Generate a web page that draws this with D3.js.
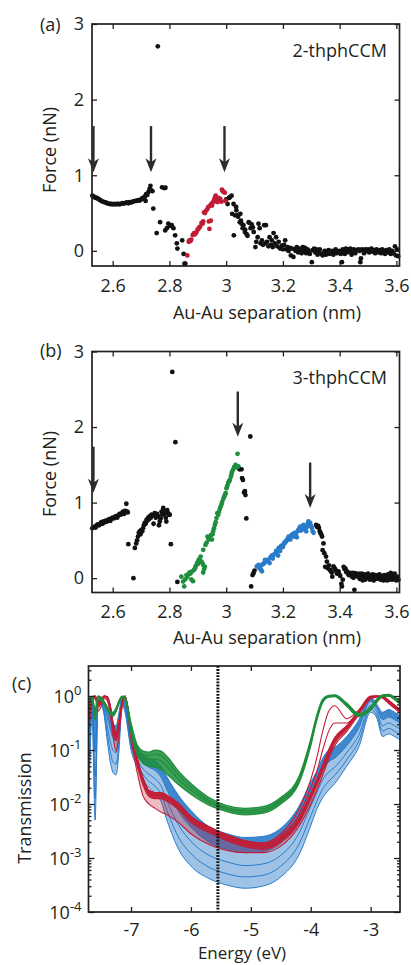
<!DOCTYPE html>
<html>
<head>
<meta charset="utf-8">
<script src="https://cdn.jsdelivr.net/npm/d3@7"></script>
<style>
  html, body { margin: 0; padding: 0; background: #fff; }
  svg { display: block; font-family: "Open Sans", "Noto Sans", sans-serif; }
</style>
</head>
<body>
<svg id="fig" width="411" height="965"></svg>
<script>
// ---------------- data ----------------
const sepTicks = [2.6, 2.8, 3, 3.2, 3.4, 3.6];
const forceTicks = [0, 1, 2, 3];
const energyTicks = [-7, -6, -5, -4, -3];
const energyTickLabels = ["-7", "-6", "-5", "-4", "-3"];
const transTicks = [1e-4, 1e-3, 1e-2, 1e-1, 1];
const transExponents = ["-4", "-3", "-2", "-1", "0"];

// (a) 2-thphCCM force trace: [separation nm, force nN]
const aBlack = [
[2.528,0.73],[2.532,0.72],[2.536,0.71],[2.540,0.70],[2.544,0.70],[2.548,0.69],[2.552,0.68],[2.556,0.67],[2.560,0.66],[2.565,0.65],[2.570,0.645],[2.575,0.64],[2.580,0.63],[2.585,0.625],[2.590,0.62],[2.595,0.62],[2.600,0.615],[2.605,0.62],[2.610,0.615],[2.615,0.62],[2.620,0.62],[2.625,0.615],[2.630,0.625],[2.635,0.63],[2.640,0.625],[2.645,0.635],[2.650,0.64],[2.655,0.63],[2.660,0.645],[2.665,0.64],[2.670,0.65],[2.675,0.655],[2.680,0.66],[2.685,0.66],[2.690,0.67],[2.695,0.665],[2.700,0.68],[2.705,0.70],[2.710,0.69],[2.714,0.72],[2.716,0.66],[2.718,0.75],[2.722,0.74],[2.726,0.78],[2.730,0.82],[2.733,0.86],[2.736,0.80],[2.740,0.79],[2.743,0.56],
[2.755,0.235],[2.759,2.705],[2.767,0.38],[2.774,0.84],[2.782,0.83],[2.786,0.835],[2.785,0.27],[2.791,0.30],[2.796,0.36],[2.802,0.33],[2.808,0.34],[2.814,0.30],[2.820,0.205],[2.826,0.10],[2.828,0.03],[2.845,0.14],[2.850,-0.04],[2.853,-0.17],[2.856,-0.17],
[3.000,0.68],[3.005,0.62],[3.010,0.70],[3.013,0.71],[3.019,0.73],[3.021,0.49],[3.026,0.62],[3.027,0.205],[3.031,0.47],[3.035,0.58],[3.036,0.535],[3.040,0.47],[3.042,0.45],[3.048,0.38],[3.050,0.49],[3.052,0.40],[3.054,0.36],[3.058,0.30],[3.061,0.34],[3.066,0.25],[3.067,0.28],[3.072,0.22],[3.075,0.20],[3.079,0.38],[3.082,0.37],[3.086,0.30],[3.090,0.35],[3.094,0.31],[3.097,0.25],[3.103,0.05],[3.106,0.12],[3.111,0.18],[3.114,0.36],[3.118,0.30],[3.121,0.10],[3.126,0.14],[3.130,0.08],[3.134,0.34],[3.138,0.10],[3.140,0.34],[3.144,0.12],[3.149,0.06],[3.153,0.18],[3.157,0.08],[3.161,0.14],[3.164,0.05],[3.167,0.235],[3.171,0.10],[3.176,0.18],[3.180,0.06],[3.185,0.12],[3.190,0.03],[3.196,0.07],[3.200,0.02],[3.204,0.08],[3.208,0.14],[3.212,0.02],[3.216,0.05],[3.220,0.00],[3.225,0.04],[3.228,-0.06],[3.232,0.03],[3.237,-0.08],[3.241,0.02],[3.245,0.00],[3.249,0.05],[3.254,-0.02],[3.258,0.03],[3.261,0.01],[3.266,-0.03],[3.270,0.05],[3.274,0.00],[3.278,0.04],[3.282,-0.03],[3.287,0.02],[3.291,0.00],[3.295,-0.04],[3.302,-0.15],[3.305,0.01],[3.310,0.03],[3.314,-0.02],[3.318,0.02],[3.322,-0.05],[3.326,-0.01],[3.330,0.02],[3.335,-0.04],[3.340,-0.06],[3.344,-0.02],[3.348,0.00],[3.352,-0.05],[3.357,-0.03],[3.361,0.01],[3.365,-0.04],[3.370,-0.02],[3.374,0.00],[3.378,-0.05],[3.382,-0.02],[3.386,0.02],[3.390,-0.03],[3.395,-0.02],[3.400,0.00],[3.404,-0.04],[3.408,-0.15],[3.411,0.02],[3.414,0.00],[3.418,-0.04],[3.422,0.03],[3.426,-0.02],[3.430,0.02],[3.434,-0.01],[3.438,0.03],[3.442,-0.05],[3.446,0.00],[3.450,0.02],[3.455,-0.03],[3.460,0.01],[3.466,0.02],[3.470,0.00],[3.473,-0.15],[3.475,-0.10],[3.478,0.02],[3.482,0.01],[3.486,-0.03],[3.490,0.02],[3.494,0.00],[3.500,0.02],[3.504,-0.02],[3.508,0.01],[3.512,0.03],[3.516,-0.01],[3.520,0.01],[3.525,-0.03],[3.530,0.02],[3.534,0.00],[3.538,-0.02],[3.542,0.01],[3.546,-0.03],[3.550,0.02],[3.555,0.00],[3.560,-0.04],[3.565,0.01],[3.570,-0.02],[3.575,0.02],[3.580,-0.04],[3.585,0.00],[3.590,-0.03],[3.595,0.06],[3.598,-0.06],[3.602,0.02],[3.606,-0.07]
];
const aRed = [
[2.863,-0.06],[2.868,0.12],[2.870,0.14],[2.874,0.13],[2.877,0.15],[2.882,0.21],[2.887,0.235],[2.890,0.22],[2.895,0.245],[2.899,0.28],[2.902,0.29],[2.905,0.31],[2.908,0.32],[2.913,0.37],[2.917,0.36],[2.919,0.39],[2.922,0.51],[2.925,0.50],[2.929,0.53],[2.933,0.55],[2.937,0.58],[2.939,0.39],[2.941,0.29],[2.946,0.40],[2.944,0.60],[2.948,0.62],[2.950,0.60],[2.953,0.64],[2.956,0.65],[2.958,0.68],[2.961,0.71],[2.963,0.73],[2.967,0.68],[2.969,0.645],[2.972,0.70],[2.975,0.667],[2.979,0.69],[2.983,0.65],[2.985,0.81],[2.988,0.79],[2.991,0.78],[2.995,0.77],[2.997,0.66]
];

// (b) 3-thphCCM force trace
const bBlack = [
[2.528,0.66],[2.532,0.67],[2.536,0.68],[2.540,0.67],[2.544,0.70],[2.548,0.71],[2.552,0.70],[2.556,0.72],[2.560,0.74],[2.564,0.72],[2.568,0.75],[2.572,0.74],[2.576,0.76],[2.580,0.75],[2.584,0.77],[2.588,0.78],[2.592,0.76],[2.596,0.79],[2.600,0.80],[2.604,0.79],[2.608,0.81],[2.612,0.82],[2.616,0.80],[2.620,0.83],[2.624,0.85],[2.628,0.84],[2.632,0.86],[2.636,0.88],[2.640,0.85],[2.644,0.89],[2.648,0.985],[2.651,0.88],[2.653,0.87],[2.655,0.45],[2.673,0.00],
[2.678,0.40],[2.683,0.46],[2.686,0.50],[2.689,0.55],[2.692,0.60],[2.695,0.62],[2.698,0.58],[2.701,0.64],[2.704,0.62],[2.707,0.66],[2.710,0.70],[2.713,0.73],[2.716,0.72],[2.719,0.77],[2.722,0.76],[2.725,0.80],[2.728,0.78],[2.731,0.82],[2.734,0.80],[2.737,0.84],[2.740,0.83],[2.744,0.72],[2.748,0.86],[2.752,0.80],[2.756,0.85],[2.760,0.82],[2.763,0.70],[2.766,0.75],[2.769,0.79],[2.772,0.88],[2.775,0.84],[2.778,0.93],[2.781,0.85],[2.784,0.88],[2.787,0.80],[2.789,0.75],[2.792,0.90],[2.795,0.86],[2.798,0.84],[2.801,0.84],[2.805,0.45],
[2.810,2.73],[2.821,1.80],[2.828,-0.05],
[3.047,1.44],[3.054,1.44],[3.056,1.325],[3.059,1.30],[3.063,1.135],[3.066,1.15],[3.068,1.10],[3.071,0.79],[3.085,1.875],[3.088,-0.11],[3.093,0.04],[3.096,0.065],[3.100,0.10],
[3.317,0.705],[3.320,0.68],[3.324,0.69],[3.327,0.665],[3.330,0.62],[3.332,0.60],[3.335,0.58],[3.338,0.55],[3.340,0.37],[3.343,0.46],[3.346,0.33],[3.349,0.15],[3.352,0.285],[3.355,0.22],[3.358,0.13],[3.362,0.17],[3.366,0.11],[3.369,0.09],[3.372,0.075],[3.374,0.02],[3.378,0.155],[3.381,0.14],[3.384,0.12],[3.387,0.10],[3.390,0.06],[3.393,0.08],[3.396,0.09],[3.399,0.05],[3.402,0.03],[3.406,-0.075],[3.408,-0.11],[3.411,-0.02],[3.414,0.15],[3.417,0.12],[3.420,0.13],[3.423,0.08],[3.426,0.09],[3.429,0.06],[3.432,0.04],[3.436,0.07],[3.440,0.06],[3.443,0.02],[3.446,0.07],[3.449,0.005],[3.452,-0.155],[3.455,0.065],[3.458,0.03],[3.462,0.05],[3.465,0.02],[3.468,0.06],[3.471,-0.01],[3.474,0.04],[3.478,0.06],[3.481,-0.03],[3.484,0.02],[3.487,0.05],[3.490,-0.02],[3.494,0.03],[3.497,0.00],[3.500,0.06],[3.504,0.02],[3.507,-0.02],[3.510,0.04],[3.514,0.00],[3.517,0.05],[3.520,-0.03],[3.524,0.02],[3.527,0.04],[3.530,-0.01],[3.534,0.03],[3.537,0.00],[3.540,0.05],[3.544,-0.02],[3.547,0.03],[3.550,0.01],[3.554,-0.03],[3.557,0.04],[3.560,0.00],[3.564,0.02],[3.567,-0.03],[3.570,0.05],[3.574,0.01],[3.577,-0.02],[3.580,0.07],[3.584,0.02],[3.587,-0.02],[3.590,0.03],[3.594,0.06],[3.597,0.00],[3.600,-0.03],[3.604,0.02],[3.607,-0.02]
];
const bGreen = [
[2.842,0.02],[2.848,-0.045],[2.852,-0.11],[2.856,-0.015],[2.860,0.04],[2.863,0.02],[2.867,0.05],[2.871,0.075],[2.874,0.06],[2.877,-0.015],[2.880,0.09],[2.883,-0.04],[2.887,0.11],[2.890,0.13],[2.892,0.155],[2.896,0.18],[2.899,0.21],[2.901,0.19],[2.903,0.24],[2.906,0.25],[2.910,0.285],[2.913,0.22],[2.916,0.20],[2.919,0.175],[2.919,0.075],[2.922,0.12],[2.925,0.15],[2.919,0.375],[2.927,0.44],[2.931,0.47],[2.934,0.55],[2.937,0.53],[2.939,0.51],[2.942,0.54],[2.946,0.57],[2.950,0.51],[2.952,0.58],[2.954,0.62],[2.957,0.66],[2.960,0.705],[2.963,0.74],[2.966,0.795],[2.969,0.86],[2.972,0.84],[2.975,0.88],[2.978,0.92],[2.981,0.95],[2.984,0.98],[2.986,1.01],[2.990,1.05],[2.993,1.08],[2.996,1.10],[2.998,1.125],[3.001,1.19],[3.004,1.22],[3.007,1.26],[3.010,1.28],[3.013,1.30],[3.017,1.345],[3.019,1.38],[3.021,1.41],[3.025,1.44],[3.028,1.47],[3.033,1.50],[3.036,1.47],[3.040,1.645],[3.043,1.48]
];
const bBlue = [
[3.108,0.155],[3.114,0.175],[3.117,0.13],[3.120,0.15],[3.123,0.11],[3.126,0.09],[3.128,0.18],[3.131,0.19],[3.134,0.20],[3.137,0.24],[3.140,0.22],[3.144,0.23],[3.148,0.245],[3.153,0.20],[3.156,0.27],[3.159,0.285],[3.162,0.30],[3.164,0.26],[3.168,0.31],[3.173,0.32],[3.176,0.36],[3.179,0.35],[3.183,0.30],[3.185,0.40],[3.188,0.38],[3.190,0.36],[3.193,0.42],[3.196,0.43],[3.199,0.41],[3.202,0.44],[3.205,0.47],[3.208,0.47],[3.211,0.49],[3.214,0.50],[3.217,0.52],[3.220,0.55],[3.223,0.53],[3.226,0.51],[3.229,0.56],[3.232,0.575],[3.235,0.58],[3.238,0.55],[3.241,0.60],[3.243,0.595],[3.246,0.57],[3.249,0.54],[3.252,0.62],[3.255,0.64],[3.258,0.66],[3.261,0.68],[3.264,0.63],[3.267,0.66],[3.270,0.69],[3.273,0.705],[3.276,0.67],[3.279,0.64],[3.282,0.62],[3.285,0.68],[3.288,0.72],[3.290,0.75],[3.293,0.70],[3.296,0.73],[3.299,0.69],[3.302,0.665],[3.305,0.62],[3.308,0.60]
];

// arrows marking rupture events: separation, arrow top, arrow tip (nN)
const arrowSepA = [2.532, 2.735, 2.994];
const arrowTopA = [1.65, 1.65, 1.65];
const arrowTipA = [1.04, 1.04, 1.04];
const arrowSepB = [2.532, 3.041, 3.296];
const arrowTopB = [1.74, 2.47, 1.53];
const arrowTipB = [1.13, 1.87, 0.93];

// (c) transmission, log10(T) on a shared energy grid (eV)
const energy = [-7.7,-7.65,-7.6,-7.55,-7.5,-7.45,-7.4,-7.35,-7.3,-7.25,-7.2,-7.15,-7.1,-7.0,-6.9,-6.8,-6.7,-6.6,-6.5,-6.4,-6.2,-6.0,-5.7,-5.4,-5.1,-4.8,-4.5,-4.2,-4.0,-3.9,-3.8,-3.7,-3.6,-3.4,-3.2,-3.0,-2.9,-2.8,-2.7,-2.6,-2.5];
const markerEnergy = -5.55;

const blue1 = [-0.3,0.0,-0.5,0.0,-0.02,-0.1,-0.2,-0.35,-0.5,-0.55,-0.3,0.0,-0.1,-0.7,-0.98,-1.1,-1.15,-1.2,-1.3,-1.5,-1.85,-2.12,-2.42,-2.55,-2.62,-2.6,-2.45,-2.05,-1.6,-1.4,-1.15,-1.0,-0.95,-0.75,-0.45,-0.02,-0.15,-0.3,-0.25,-0.3,-0.38];
const blue2 = [-0.75,-0.09,-1.04,-0.03,-0.06,-0.18,-0.38,-0.6,-0.78,-0.82,-0.51,-0.05,-0.16,-0.79,-1.08,-1.24,-1.32,-1.38,-1.5,-1.74,-2.15,-2.43,-2.71,-2.84,-2.9,-2.88,-2.72,-2.32,-1.84,-1.61,-1.37,-1.22,-1.15,-0.92,-0.6,-0.1,-0.23,-0.44,-0.39,-0.44,-0.51];
const blue3 = [-1.12,-0.17,-1.49,-0.06,-0.09,-0.24,-0.53,-0.82,-1.01,-1.05,-0.69,-0.08,-0.21,-0.87,-1.16,-1.35,-1.45,-1.53,-1.66,-1.94,-2.4,-2.69,-2.95,-3.07,-3.14,-3.11,-2.95,-2.55,-2.04,-1.79,-1.55,-1.41,-1.32,-1.05,-0.73,-0.17,-0.29,-0.55,-0.5,-0.55,-0.62];
const blue4 = [-1.47,-0.23,-1.9,-0.08,-0.12,-0.3,-0.67,-1.01,-1.22,-1.26,-0.85,-0.12,-0.26,-0.93,-1.23,-1.45,-1.58,-1.67,-1.81,-2.12,-2.63,-2.92,-3.17,-3.29,-3.35,-3.32,-3.15,-2.75,-2.22,-1.95,-1.72,-1.58,-1.47,-1.18,-0.84,-0.24,-0.35,-0.65,-0.6,-0.65,-0.72];
const blue5 = [-1.8,-0.3,-2.3,-0.1,-0.15,-0.35,-0.8,-1.2,-1.42,-1.46,-1.0,-0.15,-0.3,-1.0,-1.3,-1.55,-1.7,-1.8,-1.95,-2.3,-2.85,-3.15,-3.38,-3.5,-3.56,-3.52,-3.35,-2.95,-2.4,-2.1,-1.88,-1.74,-1.62,-1.3,-0.95,-0.3,-0.4,-0.75,-0.7,-0.75,-0.82];

const red1 = [-0.35,-0.02,0.0,-0.1,-0.07,0.0,-0.01,-0.16,-0.5,-0.69,-0.45,-0.12,0.0,-0.6,-1.14,-1.52,-1.75,-1.79,-1.79,-1.84,-2.0,-2.23,-2.42,-2.57,-2.68,-2.72,-2.55,-2.1,-1.55,-1.15,-0.65,-0.28,-0.18,-0.42,-0.26,0.0,0.0,-0.01,-0.08,-0.17,-0.26];
const red1b = [-0.35,-0.02,0.0,-0.1,-0.07,0.0,-0.01,-0.16,-0.5,-0.69,-0.45,-0.12,0.0,-0.6,-1.14,-1.52,-1.75,-1.79,-1.79,-1.84,-2.0,-2.23,-2.42,-2.57,-2.68,-2.73,-2.58,-2.2,-1.7,-1.4,-1.0,-0.65,-0.5,-0.5,-0.27,-0.01,0.0,-0.01,-0.08,-0.17,-0.26];
const red2 = [-0.35,-0.02,0.0,-0.1,-0.07,0.0,-0.01,-0.16,-0.5,-0.69,-0.45,-0.12,0.0,-0.6,-1.14,-1.52,-1.75,-1.79,-1.79,-1.84,-2.0,-2.23,-2.42,-2.57,-2.68,-2.73,-2.6,-2.25,-1.8,-1.54,-1.27,-0.99,-0.77,-0.55,-0.28,-0.01,0.0,-0.01,-0.08,-0.17,-0.26];
const red3 = [-0.4,-0.05,0.0,-0.15,-0.1,0.0,-0.02,-0.2,-0.55,-0.75,-0.5,-0.15,0.0,-0.65,-1.2,-1.58,-1.8,-1.84,-1.84,-1.89,-2.05,-2.28,-2.47,-2.62,-2.73,-2.78,-2.65,-2.3,-1.85,-1.6,-1.33,-1.05,-0.82,-0.58,-0.3,-0.02,0.0,-0.02,-0.1,-0.19,-0.28];
const red4 = [-0.5,-0.08,-0.02,-0.2,-0.14,-0.02,-0.04,-0.25,-0.62,-0.83,-0.56,-0.18,-0.01,-0.7,-1.27,-1.65,-1.86,-1.9,-1.9,-1.95,-2.11,-2.34,-2.53,-2.68,-2.79,-2.84,-2.71,-2.36,-1.91,-1.66,-1.39,-1.11,-0.87,-0.62,-0.33,-0.04,-0.01,-0.03,-0.12,-0.21,-0.3];
const red5 = [-0.6,-0.12,-0.05,-0.28,-0.2,-0.05,-0.08,-0.32,-0.75,-1.03,-0.7,-0.22,-0.03,-0.8,-1.4,-1.85,-2.0,-2.08,-2.15,-2.2,-2.35,-2.55,-2.75,-2.86,-2.9,-2.9,-2.78,-2.42,-2.0,-1.75,-1.47,-1.17,-0.92,-0.66,-0.35,-0.05,-0.02,-0.04,-0.14,-0.23,-0.33];

const green1 = [-0.05,0.0,-0.25,0.0,-0.02,-0.1,-0.2,-0.28,-0.3,-0.22,-0.08,0.0,-0.02,-0.5,-0.9,-1.02,-1.04,-1.0,-1.02,-1.12,-1.4,-1.62,-1.88,-2.03,-2.08,-2.05,-1.88,-1.5,-0.8,-0.36,-0.06,0.01,0.02,-0.13,-0.32,-0.2,-0.06,0.02,0.03,-0.02,-0.1];
const green2 = [-0.08,-0.02,-0.3,-0.02,-0.04,-0.12,-0.22,-0.3,-0.33,-0.25,-0.1,-0.01,-0.03,-0.55,-0.95,-1.08,-1.1,-1.08,-1.1,-1.2,-1.47,-1.68,-1.93,-2.07,-2.12,-2.09,-1.92,-1.54,-0.84,-0.39,-0.08,0.0,0.01,-0.15,-0.34,-0.22,-0.08,0.01,0.02,-0.04,-0.12];
const green3 = [-0.1,-0.04,-0.35,-0.04,-0.06,-0.14,-0.24,-0.32,-0.35,-0.27,-0.12,-0.02,-0.04,-0.6,-1.0,-1.15,-1.18,-1.17,-1.2,-1.3,-1.55,-1.74,-1.97,-2.1,-2.16,-2.13,-1.96,-1.58,-0.88,-0.42,-0.1,-0.01,0.0,-0.17,-0.36,-0.24,-0.1,0.0,0.01,-0.05,-0.14];
const green4 = [-0.15,-0.08,-0.45,-0.06,-0.08,-0.16,-0.26,-0.34,-0.37,-0.29,-0.14,-0.03,-0.05,-0.68,-1.08,-1.25,-1.3,-1.32,-1.36,-1.45,-1.65,-1.82,-2.02,-2.14,-2.2,-2.17,-2.0,-1.62,-0.92,-0.45,-0.12,-0.02,-0.01,-0.19,-0.38,-0.26,-0.12,-0.01,0.0,-0.07,-0.16];

// ---------------- drawing ----------------
const svg = d3.select("#fig");
const ink = "#231f20";
const fontSize = 18;
const colBlack = "#111";
const colRed = "#c21d36";
const colGreen = "#1f8e3d";
const colBlue = "#2a7bc8";

const xSep = d3.scaleLinear().domain([2.527, 3.611]).range([92, 399.5]);
const yForceA = d3.scaleLinear().domain([-0.2, 3]).range([266, 24]);
const yForceB = d3.scaleLinear().domain([-0.19, 3]).range([592.5, 351.5]);
const xE = d3.scaleLinear().domain([-7.71, -2.51]).range([88.5, 400]);
const yT = d3.scaleLog().domain([1e-4, 3.6]).range([912, 666]);

function styleAxis(sel) {
  sel.attr("font-family", null).attr("font-size", null);
  sel.select(".domain").remove();
  sel.selectAll(".tick line").attr("stroke", ink).attr("stroke-width", 1.3);
  sel.selectAll(".tick text").attr("fill", ink).style("font-size", fontSize + "px");
}

function frame(x, y) {
  const [x0, x1] = x.range();
  const [y0, y1] = y.range();
  svg.append("rect")
    .attr("x", x0).attr("y", Math.min(y0, y1))
    .attr("width", x1 - x0).attr("height", Math.abs(y0 - y1))
    .attr("fill", "none").attr("stroke", ink).attr("stroke-width", 1.7);
}

function forcePanel(y, black, colored, arrows, tag, name, nameY, tagY, yTitleY, xTitleY) {
  const [yb, yt] = y.range();
  const [xl, xr] = xSep.range();

  svg.append("g").attr("transform", `translate(0,${yb})`)
    .call(d3.axisBottom(xSep).tickValues(sepTicks).tickFormat(d3.format("~g")).tickSize(-5).tickPadding(13))
    .call(styleAxis);
  svg.append("g").attr("transform", `translate(0,${yt})`)
    .call(d3.axisTop(xSep).tickValues(sepTicks).tickFormat("").tickSize(-5))
    .call(styleAxis);
  svg.append("g").attr("transform", `translate(${xl},0)`)
    .call(d3.axisLeft(y).tickValues(forceTicks).tickFormat(d3.format("d")).tickSize(-5).tickPadding(8))
    .call(styleAxis);
  svg.append("g").attr("transform", `translate(${xr},0)`)
    .call(d3.axisRight(y).tickValues(forceTicks).tickFormat("").tickSize(-5))
    .call(styleAxis);

  const pts = svg.append("g");
  pts.selectAll("circle.k").data(black).join("circle").attr("class", "k")
    .attr("cx", d => xSep(d[0])).attr("cy", d => y(d[1])).attr("r", 2.4).attr("fill", colBlack);
  colored.forEach(([data, col]) => {
    pts.append("g").selectAll("circle").data(data).join("circle")
      .attr("cx", d => xSep(d[0])).attr("cy", d => y(d[1])).attr("r", 2.4).attr("fill", col);
  });

  frame(xSep, y);

  const [sepArr, topArr, tipArr] = arrows;
  sepArr.forEach((s, i) => {
    const ax = xSep(s), ay0 = y(topArr[i]), ay1 = y(tipArr[i]);
    svg.append("line").attr("x1", ax).attr("x2", ax).attr("y1", ay0).attr("y2", ay1 - 8)
      .attr("stroke", "#2b2b2b").attr("stroke-width", 2.4);
    svg.append("path")
      .attr("d", `M${ax},${ay1} L${ax - 5.5},${ay1 - 14} L${ax},${ay1 - 10} L${ax + 5.5},${ay1 - 14} Z`)
      .attr("fill", "#2b2b2b");
  });

  svg.append("text").attr("x", 40).attr("y", tagY).attr("fill", ink)
    .style("font-size", fontSize + "px").text(tag);
  svg.append("text").attr("x", 387).attr("y", nameY).attr("text-anchor", "end").attr("fill", ink)
    .style("font-size", fontSize + "px").text(name);
  svg.append("text").attr("transform", `translate(56,${yTitleY}) rotate(-90)`)
    .attr("text-anchor", "middle").attr("fill", ink).style("font-size", fontSize + "px").text("Force (nN)");
  svg.append("text").attr("x", 267).attr("y", xTitleY).attr("text-anchor", "middle").attr("fill", ink)
    .style("font-size", fontSize + "px").text("Au-Au separation (nm)");
}

forcePanel(yForceA, aBlack, [[aRed, colRed]], [arrowSepA, arrowTopA, arrowTipA],
  "(a)", "2-thphCCM", 57, 31, 150, 319);
forcePanel(yForceB, bBlack, [[bGreen, colGreen], [bBlue, colBlue]], [arrowSepB, arrowTopB, arrowTipB],
  "(b)", "3-thphCCM", 384, 357, 474, 644);

// ---- (c) transmission ----
const [cxl, cxr] = xE.range();
const [cyb, cyt] = yT.range();
svg.append("defs").append("clipPath").attr("id", "clipC")
  .append("rect").attr("x", cxl).attr("y", cyt).attr("width", cxr - cxl).attr("height", cyb - cyt);

const plotC = svg.append("g").attr("clip-path", "url(#clipC)");
const lineT = d3.line().x((d, i) => xE(energy[i])).y(d => yT(Math.pow(10, d))).curve(d3.curveMonotoneX);
const areaT = (upper, lower) => d3.area()
  .x((d, i) => xE(energy[i]))
  .y0((d, i) => yT(Math.pow(10, lower[i])))
  .y1((d, i) => yT(Math.pow(10, upper[i])))
  .curve(d3.curveMonotoneX)(upper);

function bundle(curves, col, denseFrom, denseTo, denseOpacity, lightFrom, lightTo, lightOpacity, width) {
  const g = plotC.append("g");
  if (lightFrom) g.append("path").attr("d", areaT(lightFrom, lightTo)).attr("fill", col).attr("opacity", lightOpacity);
  if (denseFrom) g.append("path").attr("d", areaT(denseFrom, denseTo)).attr("fill", col).attr("opacity", denseOpacity);
  curves.forEach(c => g.append("path").attr("d", lineT(c)).attr("fill", "none")
    .attr("stroke", col).attr("stroke-width", width));
}

bundle([blue1, blue2, blue3, blue4, blue5], colBlue, blue1, blue2, 0.9, blue2, blue5, 0.45, 1.0);
bundle([red1, red1b, red2, red3, red4, red5], colRed, red2, red4, 0.95, red4, red5, 0.3, 1.1);
bundle([green1, green2, green3, green4], colGreen, green1, green4, 0.85, null, null, 0, 1.3);

// vertical marker
svg.append("line").attr("x1", xE(markerEnergy)).attr("x2", xE(markerEnergy))
  .attr("y1", cyt).attr("y2", cyb).attr("stroke", "#111").attr("stroke-width", 3)
  .attr("stroke-dasharray", "1.8,1.3");

// axes for (c)
const minorTicks = yT.ticks().filter(t => !transTicks.some(m => Math.abs(m - t) / m < 1e-6));
svg.append("g").attr("transform", `translate(0,${cyb})`)
  .call(d3.axisBottom(xE).tickValues(energyTicks).tickFormat((d, i) => energyTickLabels[i]).tickSize(-5).tickPadding(11))
  .call(styleAxis);
svg.append("g").attr("transform", `translate(0,${cyt})`)
  .call(d3.axisTop(xE).tickValues(energyTicks).tickFormat("").tickSize(-5))
  .call(styleAxis);
[[d3.axisLeft, cxl], [d3.axisRight, cxr]].forEach(([ax, pos]) => {
  svg.append("g").attr("transform", `translate(${pos},0)`)
    .call(ax(yT).tickValues(transTicks).tickFormat("").tickSize(-6)).call(styleAxis);
  svg.append("g").attr("transform", `translate(${pos},0)`)
    .call(ax(yT).tickValues(minorTicks).tickFormat("").tickSize(-3)).call(styleAxis);
});
frame(xE, yT);

const yLab = svg.append("g");
transTicks.forEach((t, i) => {
  const txt = yLab.append("text").attr("x", cxl - 7).attr("y", yT(t) + 7)
    .attr("text-anchor", "end").attr("fill", ink).style("font-size", fontSize + "px");
  txt.append("tspan").text("10");
  txt.append("tspan").attr("dy", -8).style("font-size", "13px").text(transExponents[i]);
});

svg.append("text").attr("x", 12).attr("y", 690).attr("fill", ink)
  .style("font-size", fontSize + "px").text("(c)");
svg.append("text").attr("transform", `translate(31,808) rotate(-90)`)
  .attr("text-anchor", "middle").attr("fill", ink).style("font-size", fontSize + "px").text("Transmission");
svg.append("text").attr("x", 242).attr("y", 959).attr("text-anchor", "middle").attr("fill", ink)
  .style("font-size", "17px").text("Energy (eV)");
</script>
</body>
</html>
